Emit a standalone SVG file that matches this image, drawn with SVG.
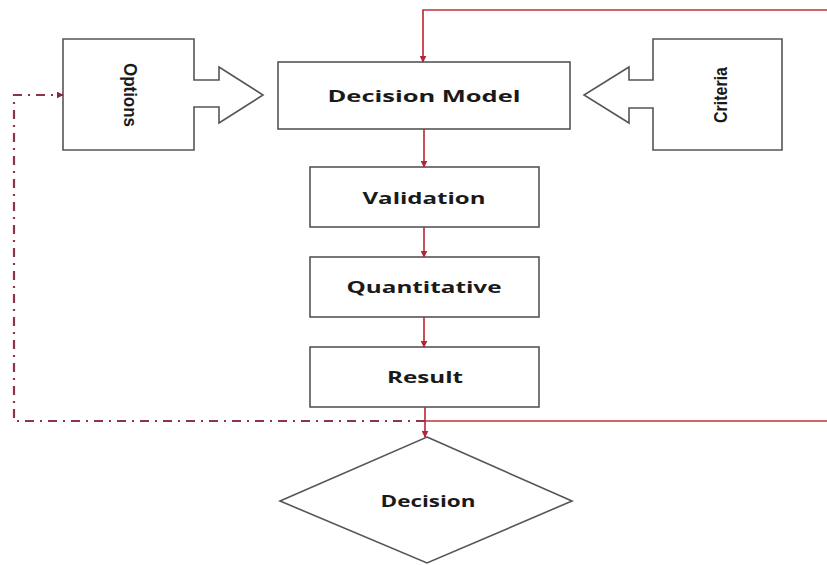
<svg xmlns="http://www.w3.org/2000/svg" width="827" height="565" viewBox="0 0 827 565">
  <defs>
    <style>
      .box { fill: #ffffff; stroke: #555555; stroke-width: 1.6; }
      .lbl { font-family: "Open Sans", "DejaVu Sans", sans-serif; font-weight: bold; font-size: 16px; fill: #1a1a1a; text-anchor: middle; }
      .side { font-family: "Liberation Sans", Arial, sans-serif; font-weight: bold; font-size: 18px; fill: #1a1a1a; text-anchor: middle; }
      .flow { fill: none; stroke: #c0303c; stroke-width: 1.7; }
      .loop { fill: none; stroke: #8e3446; stroke-width: 2.2; stroke-dasharray: 9 6 2 6; }
    </style>
    <marker id="ah" viewBox="0 0 10 10" refX="9" refY="5" markerWidth="7" markerHeight="7" orient="auto" markerUnits="userSpaceOnUse">
      <path d="M0,0 L10,5 L0,10 z" fill="#b02836"/>
    </marker>
    <marker id="ahd" viewBox="0 0 10 10" refX="9" refY="5" markerWidth="7" markerHeight="7" orient="auto" markerUnits="userSpaceOnUse">
      <path d="M0,0 L10,5 L0,10 z" fill="#7e2a3c"/>
    </marker>
  </defs>
  <rect width="827" height="565" fill="#ffffff"/>

  <!-- Options input with block arrow into the model -->
  <g id="options">
    <path class="box" d="M63,39 H194 V80 H219 V67 L263,95 L219,123 V107 H194 V150 H63 Z"/>
    <text class="side" transform="translate(124,95) rotate(90)" y="0" textLength="64" lengthAdjust="spacingAndGlyphs">Options</text>
  </g>

  <!-- Criteria input with block arrow into the model -->
  <g id="criteria">
    <path class="box" d="M782,39 H653 V80 H629 V67 L584,95 L629,123 V108 H653 V150 H782 Z"/>
    <text class="side" transform="translate(727,95) rotate(-90)" y="0" textLength="56" lengthAdjust="spacingAndGlyphs">Criteria</text>
  </g>

  <g id="decision-model">
    <rect class="box" x="278" y="62" width="292" height="67"/>
    <text class="lbl" x="424" y="102" textLength="193" lengthAdjust="spacingAndGlyphs">Decision Model</text>
  </g>

  <g id="validation">
    <rect class="box" x="310" y="167" width="229" height="60"/>
    <text class="lbl" x="424" y="204" textLength="123" lengthAdjust="spacingAndGlyphs">Validation</text>
  </g>

  <g id="quantitative">
    <rect class="box" x="310" y="257" width="229" height="60"/>
    <text class="lbl" x="424" y="293" textLength="155" lengthAdjust="spacingAndGlyphs">Quantitative</text>
  </g>

  <g id="result">
    <rect class="box" x="310" y="347" width="229" height="60"/>
    <text class="lbl" x="425" y="383" textLength="76" lengthAdjust="spacingAndGlyphs">Result</text>
  </g>

  <g id="decision">
    <path class="box" d="M427,437 L572,501 L427,563 L280,501 Z"/>
    <text class="lbl" x="428" y="507" textLength="95" lengthAdjust="spacingAndGlyphs">Decision</text>
  </g>

  <g id="connectors">
    <!-- feedback loop from the right edge into the model -->
    <path class="flow" d="M827,10 H423 V62" marker-end="url(#ah)"/>
    <path class="flow" d="M424,129 V167" marker-end="url(#ah)"/>
    <path class="flow" d="M424,227 V257" marker-end="url(#ah)"/>
    <path class="flow" d="M424,317 V347" marker-end="url(#ah)"/>
    <path class="flow" d="M425,407 V437" marker-end="url(#ah)"/>
    <path class="flow" d="M425,421 H827"/>
    <!-- dash-dot return path back to the options -->
    <path class="loop" d="M425,421 H14 V95 H63" marker-end="url(#ahd)"/>
  </g>
</svg>
